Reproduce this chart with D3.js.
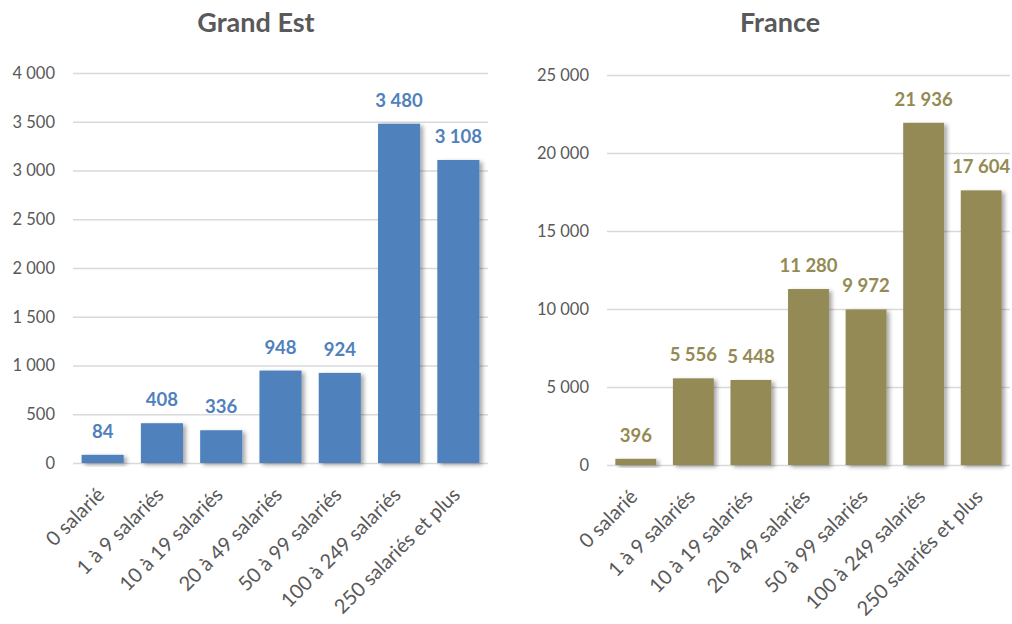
<!DOCTYPE html>
<html><head><meta charset="utf-8">
<script src="https://cdn.jsdelivr.net/npm/d3@7"></script>
<style>body{margin:0;background:#fff}svg{display:block}</style>
</head><body>
<svg id="c" width="1012" height="624"></svg>
<script>
const categories = ["0 salarié","1 à 9 salariés","10 à 19 salariés","20 à 49 salariés","50 à 99 salariés","100 à 249 salariés","250 salariés et plus"];
const grandEstValues = [84,408,336,948,924,3480,3108];
const franceValues = [396,5556,5448,11280,9972,21936,17604];
const grandEstTicks = [0,500,1000,1500,2000,2500,3000,3500,4000];
const franceTicks = [0,5000,10000,15000,20000,25000];

const svg = d3.select("#c");
const defs = svg.append("defs");
const f = defs.append("filter").attr("id","sh").attr("x","-20%").attr("y","-20%").attr("width","160%").attr("height","160%");
f.append("feDropShadow").attr("dx",3).attr("dy",2).attr("stdDeviation",2).attr("flood-color","#000").attr("flood-opacity",0.35);

const fmt = v => d3.format(",")(v).replace(/,/g," ");
const FONT = "Lato, 'Open Sans', sans-serif";

function chart(o){
  const g = svg.append("g");
  const x = d3.scaleBand().domain(categories).range([o.x0,o.x1]).paddingInner(0.29).paddingOuter(0.145);
  const y = d3.scaleLinear().domain([0,o.max]).range([o.y0,o.y1]);
  g.append("text").attr("x",o.tx).attr("y",32).attr("text-anchor","middle")
   .attr("font-family",FONT).attr("font-weight","bold").attr("font-size",27).attr("fill","#595959").text(o.title);
  const ya = g.append("g").attr("transform",`translate(${o.x0},0)`)
    .call(d3.axisLeft(y).tickValues(o.ticks).tickSize(-(o.x1-o.x0)).tickPadding(o.pad).tickFormat(fmt));
  ya.select(".domain").remove();
  ya.selectAll(".tick line").attr("stroke","#d9d9d9").attr("stroke-width",1.5);
  ya.selectAll(".tick text").attr("font-family",FONT).attr("font-size",16.5).attr("fill","#595959");
  g.selectAll("rect.b").data(o.values).join("rect").attr("class","b")
   .attr("x",(d,i)=>x(categories[i])).attr("width",x.bandwidth())
   .attr("y",d=>y(d)).attr("height",d=>o.y0-y(d)).attr("fill",o.color).attr("filter","url(#sh)");
  g.selectAll("text.v").data(o.values).join("text").attr("class","v")
   .attr("x",(d,i)=>x(categories[i])+x.bandwidth()/2).attr("y",d=>y(d)-17)
   .attr("text-anchor","middle").attr("font-family",FONT).attr("font-weight","bold").attr("font-size",18.5)
   .attr("fill",o.color).text(fmt);
  const xa = g.append("g").attr("transform",`translate(0,${o.y0})`)
    .call(d3.axisBottom(x).tickSize(0).tickPadding(0));
  xa.select(".domain").remove();
  xa.selectAll(".tick text").attr("font-family",FONT).attr("font-size",20).attr("fill","#595959")
    .attr("text-anchor","end").attr("dy",0).attr("transform","translate(3,33) rotate(-45)");
}

chart({title:"Grand Est",tx:256,x0:73,x1:488,y0:463,y1:73,max:4000,ticks:grandEstTicks,values:grandEstValues,color:"#4F81BD",pad:18});
chart({title:"France",tx:780,x0:607,x1:1010,y0:465,y1:75,max:25000,ticks:franceTicks,values:franceValues,color:"#948A54",pad:18});
</script>
</body></html>
